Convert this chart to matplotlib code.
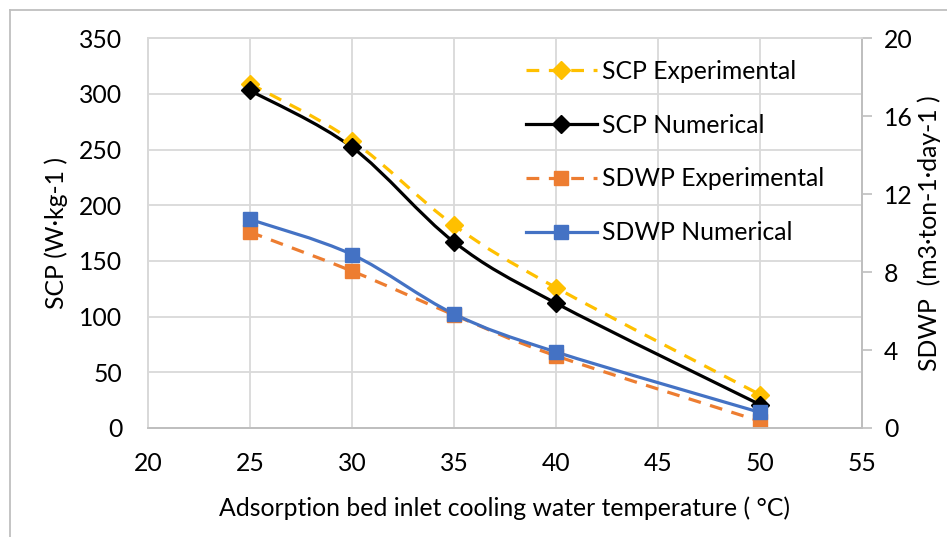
import numpy as np
import matplotlib
matplotlib.use('Agg')
import matplotlib.pyplot as plt
from matplotlib.path import Path
from matplotlib.patches import PathPatch
from matplotlib.lines import Line2D

plt.rcParams['font.family'] = ['Lato', 'DejaVu Sans']
plt.rcParams['font.size'] = 17.8

temp = [25, 30, 35, 40, 50]
scp_exp = [309, 258, 182, 126, 30]
scp_num = [303, 252, 167, 112, 21]
sdwp_exp = [10.05, 8.05, 5.8, 3.7, 0.35]
sdwp_num = [10.7, 8.9, 5.85, 3.9, 0.8]

yellow = '#FFC000'
orange = '#ED7D31'
blue = '#4472C4'
grid_c = '#D9D9D9'
axis_c = '#BFBFBF'


def smooth_path(xs, ys):
    # cardinal spline through the points, written as cubic bezier segments
    p = np.column_stack([xs, ys]).astype(float)
    n = len(p)
    verts = [p[0]]
    codes = [Path.MOVETO]
    for i in range(n - 1):
        p0 = p[i - 1] if i > 0 else p[i]
        p3 = p[i + 2] if i + 2 < n else p[i + 1]
        c1 = p[i] + (p[i + 1] - p0) / 6
        c2 = p[i + 1] - (p3 - p[i]) / 6
        verts += [c1, c2, p[i + 1]]
        codes += [Path.CURVE4] * 3
    return Path(verts, codes)


def draw_series(ax, xs, ys, color, marker, ms, dashed):
    ls = (0, (4, 3)) if dashed else '-'
    patch = PathPatch(smooth_path(xs, ys), fill=False, edgecolor=color,
                      linewidth=2.3, linestyle=ls, capstyle='butt')
    ax.add_patch(patch)
    ax.plot(xs, ys, linestyle='none', marker=marker, markersize=ms,
            color=color, markeredgecolor=color)


fig = plt.figure(figsize=(9.47, 5.37), dpi=100)
ax = fig.add_axes([0.1563, 0.203, 0.7539, 0.726])
ax2 = ax.twinx()

ax.set_xlim(20, 55)
ax.set_ylim(0, 350)
ax.set_xticks(range(20, 56, 5))
ax.set_yticks(range(0, 351, 50))
ax2.set_ylim(0, 20)
ax2.set_yticks(range(0, 21, 4))

ax.grid(True, color=grid_c, linewidth=1.3)
ax.set_axisbelow(True)
ax.tick_params(axis='y', length=0, pad=18.5)
ax.tick_params(axis='x', length=0, pad=17.5)
ax2.tick_params(axis='y', length=7, width=1.2, color=axis_c, pad=9)

for a in (ax, ax2):
    a.spines['top'].set_color(grid_c)
    a.spines['left'].set_color(grid_c)
    a.spines['bottom'].set_color(axis_c)
    a.spines['right'].set_color(axis_c)
    for s in a.spines.values():
        s.set_linewidth(1.3)

draw_series(ax, temp, scp_exp, yellow, 'D', 9, True)
draw_series(ax, temp, scp_num, 'black', 'D', 9, False)
draw_series(ax2, temp, sdwp_exp, orange, 's', 9.5, True)
draw_series(ax2, temp, sdwp_num, blue, 's', 9.5, False)

ax.set_xlabel('Adsorption bed inlet cooling water temperature ( °C)', labelpad=15)
ax.set_ylabel('SCP (W·kg-1 )', labelpad=8)
ax2.set_ylabel('SDWP  (m3·ton-1·day-1 )')
ax2.yaxis.set_label_coords(1.077, 0.5)

handles = [
    Line2D([], [], color=yellow, lw=2.3, ls=(0, (4, 3)), marker='D', ms=9),
    Line2D([], [], color='black', lw=2.3, marker='D', ms=9),
    Line2D([], [], color=orange, lw=2.3, ls=(0, (4, 3)), marker='s', ms=9.5),
    Line2D([], [], color=blue, lw=2.3, marker='s', ms=9.5),
]
labels = ['SCP Experimental', 'SCP Numerical', 'SDWP Experimental', 'SDWP Numerical']
ax2.legend(handles, labels, loc='upper left', bbox_to_anchor=(0.5425, 0.912),
           bbox_transform=fig.transFigure, frameon=False, borderpad=0,
           handlelength=2.85, handletextpad=0.2, labelspacing=1.25)

# chart frame
fig.add_artist(Line2D([10 / 947, 10 / 947], [0, 1 - 10 / 537],
                      transform=fig.transFigure, color=axis_c, lw=1.3))
fig.add_artist(Line2D([10 / 947, 1], [1 - 10 / 537, 1 - 10 / 537],
                      transform=fig.transFigure, color=axis_c, lw=1.3))

fig.savefig('out.png', dpi=100)
